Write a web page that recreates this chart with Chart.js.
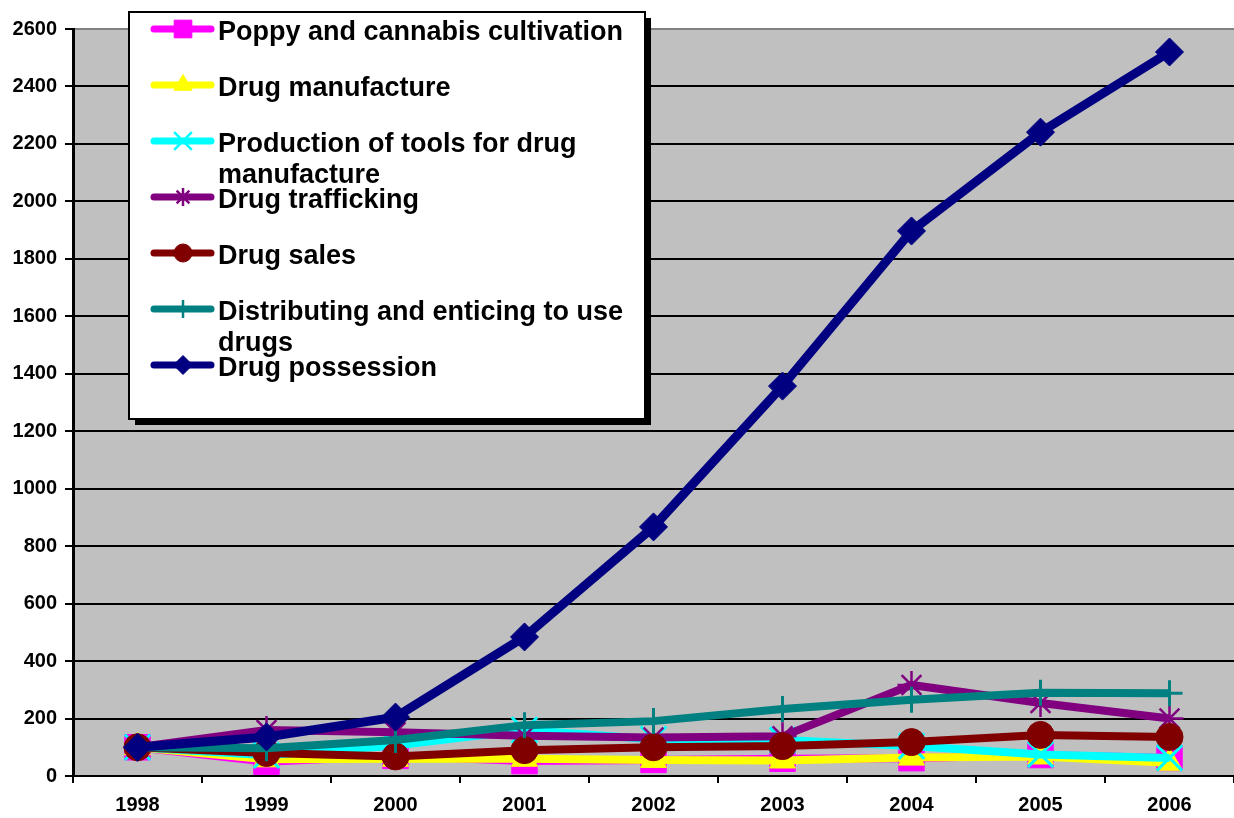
<!DOCTYPE html>
<html>
<head>
<meta charset="utf-8">
<script src="https://cdn.jsdelivr.net/npm/chart.js@4/dist/chart.umd.min.js"></script>
<style>
html,body{margin:0;padding:0;background:#fff;}
#wrap{width:1234px;height:818px;position:relative;}
canvas{display:block;}
</style>
</head>
<body>
<div id="wrap"><canvas id="c" width="1234" height="818"></canvas></div>
<script>
const years = ['1998','1999','2000','2001','2002','2003','2004','2005','2006'];
const seriesNames = [
  'Poppy and cannabis cultivation',
  'Drug manufacture',
  'Production of tools for drug manufacture',
  'Drug trafficking',
  'Drug sales',
  'Distributing and enticing to use drugs',
  'Drug possession'
];
const poppyCultivation = [100, 50, 70, 52, 56, 60, 62, 73, 63];
const drugManufacture  = [100, 58, 60, 60, 56, 54, 64, 68, 46];
const toolsProduction  = [100, 72, 106, 160, 128, 125, 104, 75, 63];
const drugTrafficking  = [100, 160, 152, 140, 134, 138, 317, 254, 200];
const drugSales        = [100, 80, 68, 90, 100, 104, 118, 143, 136];
const distributing     = [100, 97, 125, 177, 191, 233, 265, 290, 288];
const drugPossession   = [100, 136, 205, 484, 867, 1357, 1897, 2241, 2520];
const yTicks = [0, 200, 400, 600, 800, 1000, 1200, 1400, 1600, 1800, 2000, 2200, 2400, 2600];

const FONT = '"Liberation Sans", Arial, Helvetica, sans-serif';

const styles = [
  {color:'#FF00FF', style:'rect',     r:18,  bw:1,   lr:12.5},
  {color:'#FFFF00', style:'triangle', r:15,  bw:1,   lr:10.5},
  {color:'#00FFFF', style:'crossRot', r:18,  bw:3,   lr:12.5},
  {color:'#800080', style:'star',     r:14,  bw:2.5, lr:9},
  {color:'#800000', style:'circle',   r:13.5,bw:1,   lr:9},
  {color:'#008080', style:'cross',    r:13,  bw:3,   lr:9},
  {color:'#000080', style:'rectRot',  r:14,  bw:1,   lr:9.5}
];
const values = [poppyCultivation, drugManufacture, toolsProduction, drugTrafficking, drugSales, distributing, drugPossession];

const datasets = values.map((v,i)=>({
  label: seriesNames[i],
  data: v,
  borderColor: styles[i].color,
  backgroundColor: styles[i].color,
  pointBackgroundColor: styles[i].color,
  pointBorderColor: styles[i].color,
  borderWidth: i===6 ? 9 : 8,
  pointStyle: styles[i].style,
  pointRadius: styles[i].r,
  pointHoverRadius: styles[i].r,
  pointBorderWidth: styles[i].bw,
  tension: 0,
  fill: false,
  order: 7 - i,
  clip: false
}));

const bgPlugin = {
  id: 'plotBg',
  beforeDraw(chart){
    const a = chart.chartArea, ctx = chart.ctx;
    ctx.save();
    ctx.fillStyle = '#C0C0C0';
    ctx.fillRect(a.left, a.top, a.right - a.left, a.bottom - a.top);
    ctx.restore();
  }
};

function wrapText(ctx, text, maxW){
  const words = text.split(' ');
  const lines = [];
  let cur = '';
  words.forEach(w=>{
    const t = cur ? cur + ' ' + w : w;
    if (ctx.measureText(t).width > maxW && cur){ lines.push(cur); cur = w; }
    else cur = t;
  });
  if (cur) lines.push(cur);
  return lines;
}

const legendPlugin = {
  id: 'boxLegend',
  afterDraw(chart){
    const ctx = chart.ctx;
    ctx.save();
    const bx = 129, by = 12, bw = 516, bh = 407;
    ctx.fillStyle = '#000';
    ctx.fillRect(bx + 6, by + 6, bw, bh);
    ctx.fillStyle = '#fff';
    ctx.fillRect(bx, by, bw, bh);
    ctx.lineWidth = 2;
    ctx.strokeStyle = '#000';
    ctx.strokeRect(bx, by, bw, bh);
    ctx.font = 'bold 27px ' + FONT;
    ctx.textAlign = 'left';
    ctx.textBaseline = 'alphabetic';
    chart.data.datasets.forEach((ds, i)=>{
      const y = 30 + 56 * i;
      ctx.strokeStyle = ds.borderColor;
      ctx.lineWidth = 7;
      ctx.lineCap = 'round';
      ctx.beginPath();
      ctx.moveTo(154, y - 1);
      ctx.lineTo(211, y - 1);
      ctx.stroke();
      ctx.fillStyle = ds.borderColor;
      ctx.strokeStyle = ds.borderColor;
      ctx.lineWidth = styles[i].bw > 1 ? 2.5 : 1;
      ctx.lineCap = 'butt';
      Chart.helpers.drawPoint(ctx, {pointStyle: ds.pointStyle, rotation: 0, radius: styles[i].lr, borderWidth: ctx.lineWidth}, 183, y - 1);
      ctx.fillStyle = '#000';
      const lines = wrapText(ctx, ds.label, 420);
      lines.forEach((ln, k)=>{
        ctx.fillText(ln, 218, y + 9.5 + 31 * k);
      });
    });
    ctx.restore();
  }
};

new Chart(document.getElementById('c'), {
  type: 'line',
  data: { labels: years, datasets },
  options: {
    responsive: false,
    animation: false,
    devicePixelRatio: 1,
    layout: { autoPadding: false, padding: { top: 29, right: 0, left: 0, bottom: 0 } },
    plugins: { legend: { display: false }, tooltip: { enabled: false } },
    elements: { line: { borderCapStyle: 'butt', borderJoinStyle: 'miter' } },
    scales: {
      x: {
        type: 'category',
        offset: true,
        afterFit(scale){ scale.height = 42; scale.paddingLeft = 0; scale.paddingRight = 0; },
        grid: {
          offset: true,
          drawOnChartArea: false,
          drawTicks: true,
          tickLength: 7,
          color: '#000',
          tickColor: '#000',
          lineWidth: 2
        },
        border: { display: true, color: '#000', width: 2 },
        ticks: {
          color: '#000',
          font: { family: FONT, size: 20, weight: 'bold' },
          padding: 10,
          maxRotation: 0,
          autoSkip: false
        }
      },
      y: {
        min: 0,
        max: 2600,
        afterFit(scale){ scale.width = 73; },
        afterBuildTicks(scale){ scale.ticks = yTicks.map(v=>({value:v})); },
        grid: {
          drawTicks: true,
          tickLength: 8,
          color: (c)=> (c.tick && c.tick.value === 2600) ? '#808080' : '#000',
          tickColor: '#000',
          lineWidth: 2
        },
        border: { display: true, color: '#000', width: 3 },
        ticks: {
          color: '#000',
          font: { family: FONT, size: 20, weight: 'bold' },
          padding: 8,
          stepSize: 200,
          callback: (v)=> String(v)
        }
      }
    }
  },
  plugins: [bgPlugin, legendPlugin]
});
</script>
</body>
</html>
